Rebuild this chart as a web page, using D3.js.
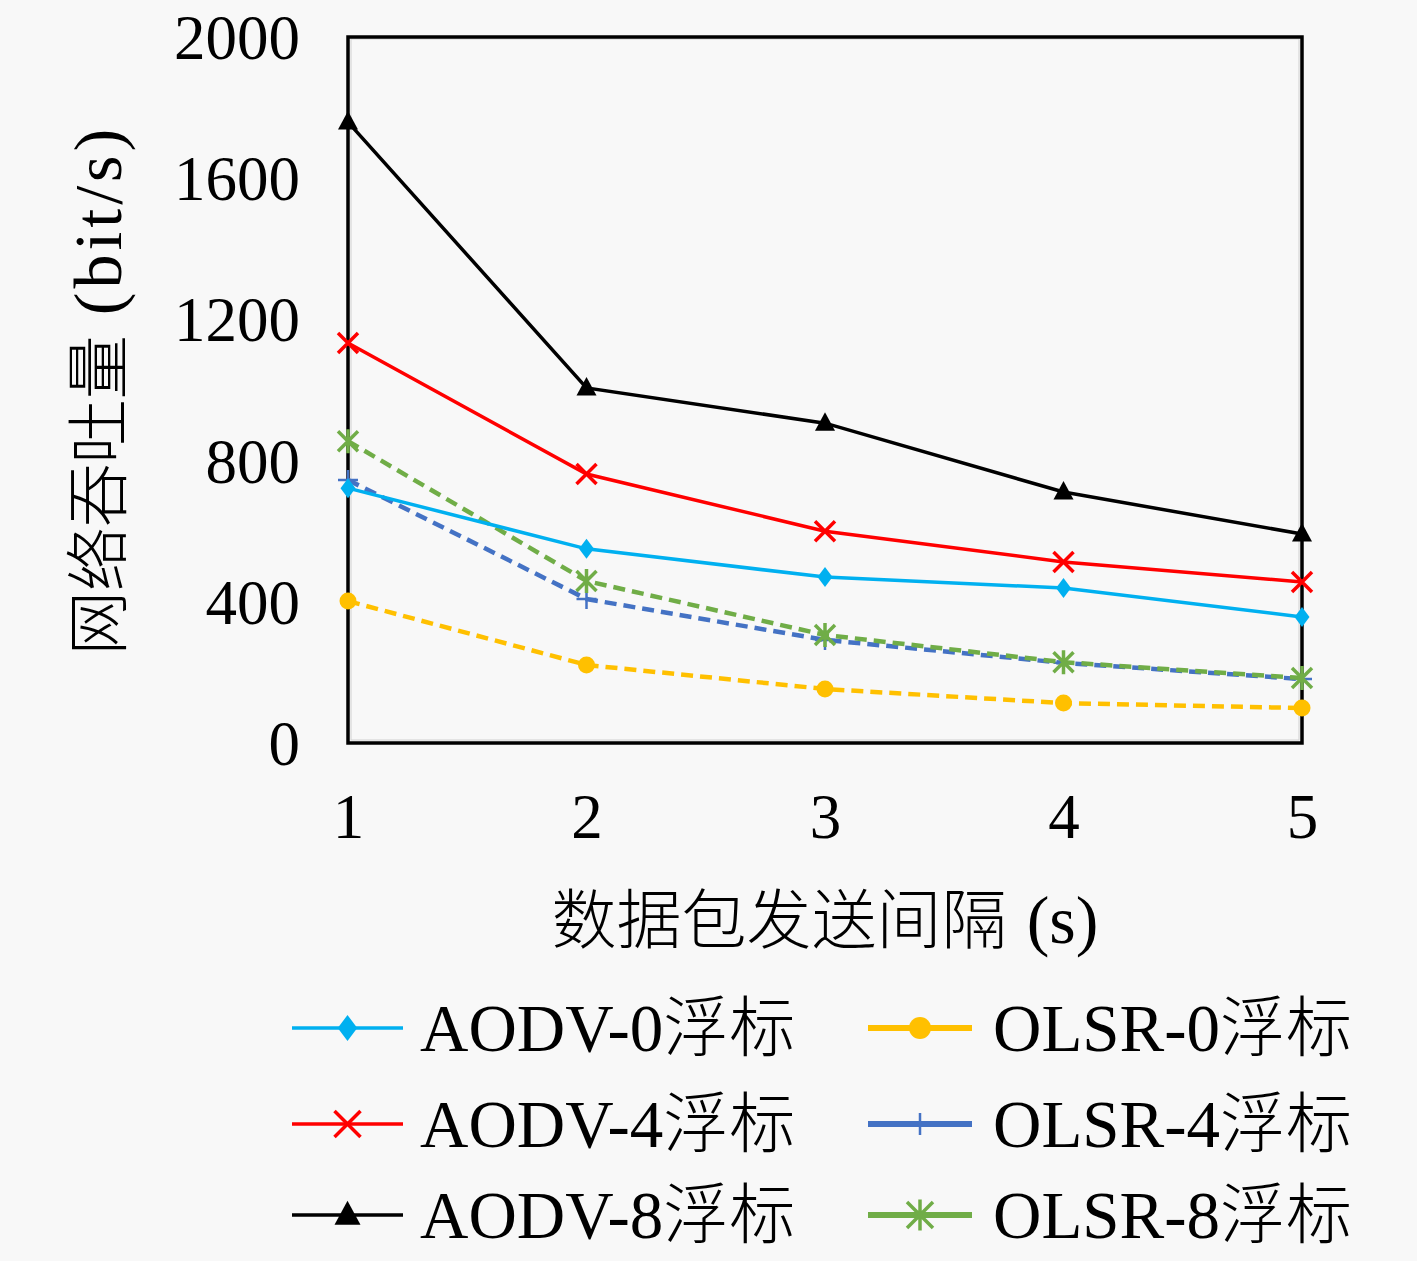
<!DOCTYPE html>
<html lang="zh">
  <head>
    <meta charset="UTF-8" />
    <title>网络吞吐量</title>
    <script src="https://d3js.org/d3.v7.min.js"></script>
    <style>
      body {
        margin: 0;
        background: #f8f8f8;
      }
      svg text {
        fill: #000;
      }
      .latin {
        font-family: 'Liberation Serif', 'DejaVu Serif', serif;
      }
      .cjk {
        font-family: 'Noto Sans CJK SC', sans-serif;
        font-weight: 300;
      }
    </style>
  </head>
  <body>
    <div id="chart"></div>
    <script>
      // data
      const intervals = [1, 2, 3, 4, 5];
      const yTicks = [0, 400, 800, 1200, 1600, 2000];

      const aodv0 = [722, 550, 470, 439, 357];
      const aodv4 = [1133, 762, 600, 513, 456];
      const aodv8 = [1759, 1006, 906, 711, 592];
      const olsr0 = [402, 221, 153, 113, 99];
      const olsr4 = [745, 408, 292, 227, 181];
      const olsr8 = [855, 459, 306, 229, 184];

      const seriesNames = [
        'AODV-0浮标',
        'AODV-4浮标',
        'AODV-8浮标',
        'OLSR-0浮标',
        'OLSR-4浮标',
        'OLSR-8浮标',
      ];

      const series = [
        { name: seriesNames[0], values: aodv0, color: '#00b0f0', dash: null, marker: 'diamond' },
        { name: seriesNames[1], values: aodv4, color: '#ff0000', dash: null, marker: 'x' },
        { name: seriesNames[2], values: aodv8, color: '#000000', dash: null, marker: 'triangle' },
        { name: seriesNames[3], values: olsr0, color: '#ffc000', dash: '12,7', marker: 'circle' },
        { name: seriesNames[4], values: olsr4, color: '#4472c4', dash: '12,7', marker: 'plus' },
        { name: seriesNames[5], values: olsr8, color: '#70ad47', dash: '12,7', marker: 'star' },
      ];

      const width = 1417;
      const height = 1261;
      const margin = { top: 37, right: 115, bottom: 518, left: 348 };

      const svg = d3
        .select('#chart')
        .append('svg')
        .attr('width', width)
        .attr('height', height);

      svg.append('rect').attr('width', width).attr('height', height).attr('fill', '#f8f8f8');

      const x = d3
        .scaleLinear()
        .domain([1, 5])
        .range([margin.left, width - margin.right]);
      const y = d3
        .scaleLinear()
        .domain([0, 2000])
        .range([height - margin.bottom, margin.top]);

      // faint plot-area border
      svg
        .append('rect')
        .attr('x', x(1) + 3)
        .attr('y', y(2000) + 2)
        .attr('width', x(5) - x(1) - 6)
        .attr('height', y(0) - y(2000) - 5)
        .attr('fill', 'none')
        .attr('stroke', '#d0d0d0')
        .attr('stroke-width', 1);

      // y axis
      const yAxis = svg
        .append('g')
        .attr('transform', `translate(${x(1)},0)`)
        .call(
          d3.axisLeft(y).tickValues(yTicks).tickFormat(d3.format('d')).tickSize(0).tickPadding(48)
        );
      yAxis.select('.domain').remove();
      yAxis
        .selectAll('text')
        .attr('class', 'latin')
        .style('font-size', '63px')
        .attr('dy', '0.34em');

      // x axis
      const xAxis = svg
        .append('g')
        .attr('transform', `translate(0,${y(0)})`)
        .call(d3.axisBottom(x).tickValues(intervals).tickFormat(d3.format('d')).tickSize(0).tickPadding(50));
      xAxis.select('.domain').remove();
      xAxis
        .selectAll('text')
        .attr('class', 'latin')
        .style('font-size', '63px')
        .attr('dy', '0.72em');

      // frame
      svg
        .append('rect')
        .attr('x', x(1))
        .attr('y', y(2000))
        .attr('width', x(5) - x(1))
        .attr('height', y(0) - y(2000))
        .attr('fill', 'none')
        .attr('stroke', '#000')
        .attr('stroke-width', 3.5);

      // axis titles
      const xTitle = svg
        .append('text')
        .attr('x', 825)
        .attr('y', 943)
        .attr('text-anchor', 'middle');
      xTitle.append('tspan').attr('class', 'cjk').style('font-size', '65px').text('数据包发送间隔');
      xTitle.append('tspan').attr('class', 'latin').style('font-size', '68px').attr('dx', 20).text('(s)');

      const yTitle = svg
        .append('text')
        .attr('transform', 'translate(121,390) rotate(-90)')
        .attr('text-anchor', 'middle');
      yTitle.append('tspan').attr('class', 'cjk').style('font-size', '64px').text('网络吞吐量');
      yTitle
        .append('tspan')
        .attr('class', 'latin')
        .style('font-size', '68px')
        .style('letter-spacing', '4px')
        .attr('dx', 20)
        .text('(bit/s)');

      // markers
      function drawMarker(g, type, color, size) {
        const s = size;
        if (type === 'diamond') {
          g.append('path')
            .attr('d', `M0,${-s}L${s * 0.75},0L0,${s}L${-s * 0.75},0Z`)
            .attr('fill', color);
        } else if (type === 'x') {
          g.append('path')
            .attr('d', `M${-s},${-s}L${s},${s}M${-s},${s}L${s},${-s}`)
            .attr('stroke', color)
            .attr('stroke-width', 3.5);
        } else if (type === 'triangle') {
          g.append('path')
            .attr('d', `M0,${-s * 1.1}L${s},${s * 0.75}L${-s},${s * 0.75}Z`)
            .attr('fill', color);
        } else if (type === 'circle') {
          g.append('circle').attr('r', s * 0.85).attr('fill', color);
        } else if (type === 'plus') {
          g.append('path')
            .attr('d', `M${-s},0L${s},0M0,${-s}L0,${s}`)
            .attr('stroke', color)
            .attr('stroke-width', 2.5);
        } else if (type === 'star') {
          g.append('path')
            .attr(
              'd',
              `M${-s},${-s}L${s},${s}M${-s},${s}L${s},${-s}M0,${-s * 1.2}L0,${s * 1.2}`
            )
            .attr('stroke', color)
            .attr('stroke-width', 3.5);
        }
      }

      const line = d3
        .line()
        .x((d, i) => x(intervals[i]))
        .y((d) => y(d));

      // draw order: dashed first, solid on top
      const drawOrder = [3, 4, 5, 0, 1, 2];
      drawOrder.forEach((k) => {
        const s = series[k];
        svg
          .append('path')
          .datum(s.values)
          .attr('d', line)
          .attr('fill', 'none')
          .attr('stroke', s.color)
          .attr('stroke-width', s.dash ? 4.5 : 3.5)
          .attr('stroke-dasharray', s.dash);

        s.values.forEach((v, i) => {
          const g = svg.append('g').attr('transform', `translate(${x(intervals[i])},${y(v)})`);
          drawMarker(g, s.marker, s.color, 10);
        });
      });

      // legend
      const legendRows = [1028, 1124, 1215];
      const legendCols = [
        { lineX0: 292, lineX1: 403, textX: 420 },
        { lineX0: 868, lineX1: 972, textX: 993 },
      ];
      series.forEach((s, k) => {
        const col = legendCols[Math.floor(k / 3)];
        const rowY = legendRows[k % 3];
        const g = svg.append('g');
        g.append('line')
          .attr('x1', col.lineX0)
          .attr('x2', col.lineX1)
          .attr('y1', rowY)
          .attr('y2', rowY)
          .attr('stroke', s.color)
          .attr('stroke-width', s.dash ? 6 : 3.5);
        const mg = g.append('g').attr('transform', `translate(${(col.lineX0 + col.lineX1) / 2},${rowY})`);
        drawMarker(mg, s.marker, s.color, s.marker === 'plus' ? 11 : 13);

        const label = s.name.replace('浮标', '');
        const t = g.append('text').attr('x', col.textX).attr('y', rowY + 23);
        t.append('tspan').attr('class', 'latin').style('font-size', '67px').text(label);
        t.append('tspan').attr('class', 'cjk').style('font-size', '66px').text('浮标');
      });
    </script>
  </body>
</html>
